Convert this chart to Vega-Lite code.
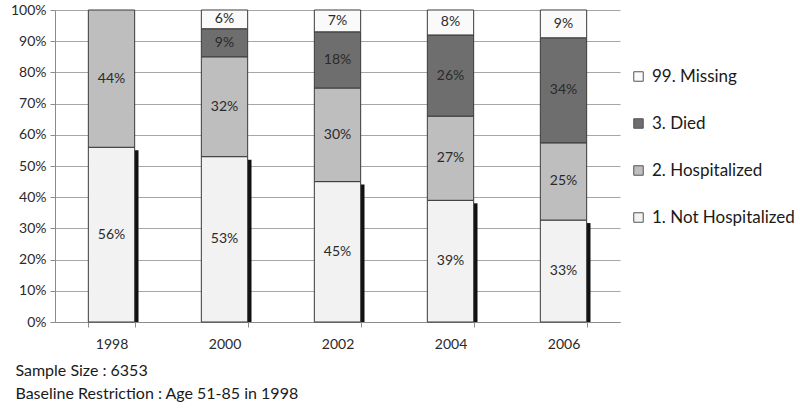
{
  "$schema": "https://vega.github.io/schema/vega-lite/v6.json",
  "width": 565,
  "height": 312,
  "autosize": {"type": "pad"},
  "padding": {"left": 10, "top": 3, "right": 0, "bottom": 0},
  "background": "white",
  "config": {"font": "Lato", "view": {"stroke": null}},
  "title": {
    "text": ["Sample Size : 6353", "Baseline Restriction : Age 51-85 in 1998"],
    "orient": "bottom",
    "anchor": "start",
    "frame": "bounds",
    "fontSize": 16,
    "fontWeight": "normal",
    "color": "#1a1a1a",
    "lineHeight": 23,
    "offset": 12,
    "dx": 5
  },
  "data": {
    "values": [
      {"year": "1998", "cat": "1. Not Hospitalized", "pct": 0.56},
      {"year": "1998", "cat": "2. Hospitalized", "pct": 0.44},
      {"year": "1998", "cat": "3. Died", "pct": 0},
      {"year": "1998", "cat": "99. Missing", "pct": 0},
      {"year": "2000", "cat": "1. Not Hospitalized", "pct": 0.53},
      {"year": "2000", "cat": "2. Hospitalized", "pct": 0.32},
      {"year": "2000", "cat": "3. Died", "pct": 0.09},
      {"year": "2000", "cat": "99. Missing", "pct": 0.06},
      {"year": "2002", "cat": "1. Not Hospitalized", "pct": 0.45},
      {"year": "2002", "cat": "2. Hospitalized", "pct": 0.30},
      {"year": "2002", "cat": "3. Died", "pct": 0.18},
      {"year": "2002", "cat": "99. Missing", "pct": 0.07},
      {"year": "2004", "cat": "1. Not Hospitalized", "pct": 0.39},
      {"year": "2004", "cat": "2. Hospitalized", "pct": 0.27},
      {"year": "2004", "cat": "3. Died", "pct": 0.26},
      {"year": "2004", "cat": "99. Missing", "pct": 0.08},
      {"year": "2006", "cat": "1. Not Hospitalized", "pct": 0.33},
      {"year": "2006", "cat": "2. Hospitalized", "pct": 0.25},
      {"year": "2006", "cat": "3. Died", "pct": 0.34},
      {"year": "2006", "cat": "99. Missing", "pct": 0.09}
    ]
  },
  "transform": [{"filter": "datum.pct > 0"}],
  "encoding": {
    "x": {
      "field": "year",
      "type": "ordinal",
      "scale": {"paddingInner": 0.59, "paddingOuter": 0.295},
      "axis": {
        "title": null,
        "labelAngle": 0,
        "labelFontSize": 14,
        "labelColor": "#2a2a2a",
        "labelPadding": 10,
        "domainColor": "#8c8c8c",
        "tickColor": "#8c8c8c",
        "tickSize": 5,
        "tickBand": "extent",
        "grid": false
      }
    },
    "y": {
      "field": "pct",
      "type": "quantitative",
      "stack": "normalize",
      "scale": {"domain": [0, 1], "nice": false},
      "axis": {
        "title": null,
        "format": ".0%",
        "values": [0, 0.1, 0.2, 0.3, 0.4, 0.5, 0.6, 0.7, 0.8, 0.9, 1],
        "labelFontSize": 14,
        "labelColor": "#2a2a2a",
        "labelPadding": 4,
        "tickSize": 5,
        "tickColor": "#8c8c8c",
        "domainColor": "#8c8c8c",
        "gridColor": "#a6a6a6",
        "grid": true
      }
    },
    "order": {"field": "cat", "sort": "ascending"}
  },
  "layer": [
    {
      "mark": {"type": "bar", "width": 4, "xOffset": 25, "yOffset": 3, "color": "#111111", "clip": true},
      "encoding": {
        "detail": {"field": "cat"},
        "opacity": {
          "condition": {"test": "datum.cat === '1. Not Hospitalized'", "value": 1},
          "value": 0
        }
      }
    },
    {
      "mark": {"type": "bar", "stroke": "#3a3a3a", "strokeWidth": 1},
      "encoding": {
        "color": {
          "field": "cat",
          "type": "nominal",
          "scale": {
            "domain": ["99. Missing", "3. Died", "2. Hospitalized", "1. Not Hospitalized"],
            "range": ["#fafafa", "#6e6e6e", "#bebebe", "#f2f2f2"]
          },
          "legend": {
            "title": null,
            "orient": "none",
            "legendX": 575,
            "legendY": 58,
            "symbolType": "square",
            "symbolSize": 90,
            "symbolStrokeColor": "#555555",
            "symbolStrokeWidth": 1,
            "labelFontSize": 17,
            "labelColor": "#1a1a1a",
            "labelOffset": 5,
            "labelLimit": 220,
            "rowPadding": 29
          }
        }
      }
    },
    {
      "mark": {"type": "text", "fontSize": 14, "color": "#2a2a2a"},
      "encoding": {
        "y": {"field": "pct", "type": "quantitative", "stack": "normalize", "bandPosition": 0.5},
        "detail": {"field": "cat"},
        "text": {"field": "pct", "type": "quantitative", "format": ".0%"}
      }
    }
  ]
}
